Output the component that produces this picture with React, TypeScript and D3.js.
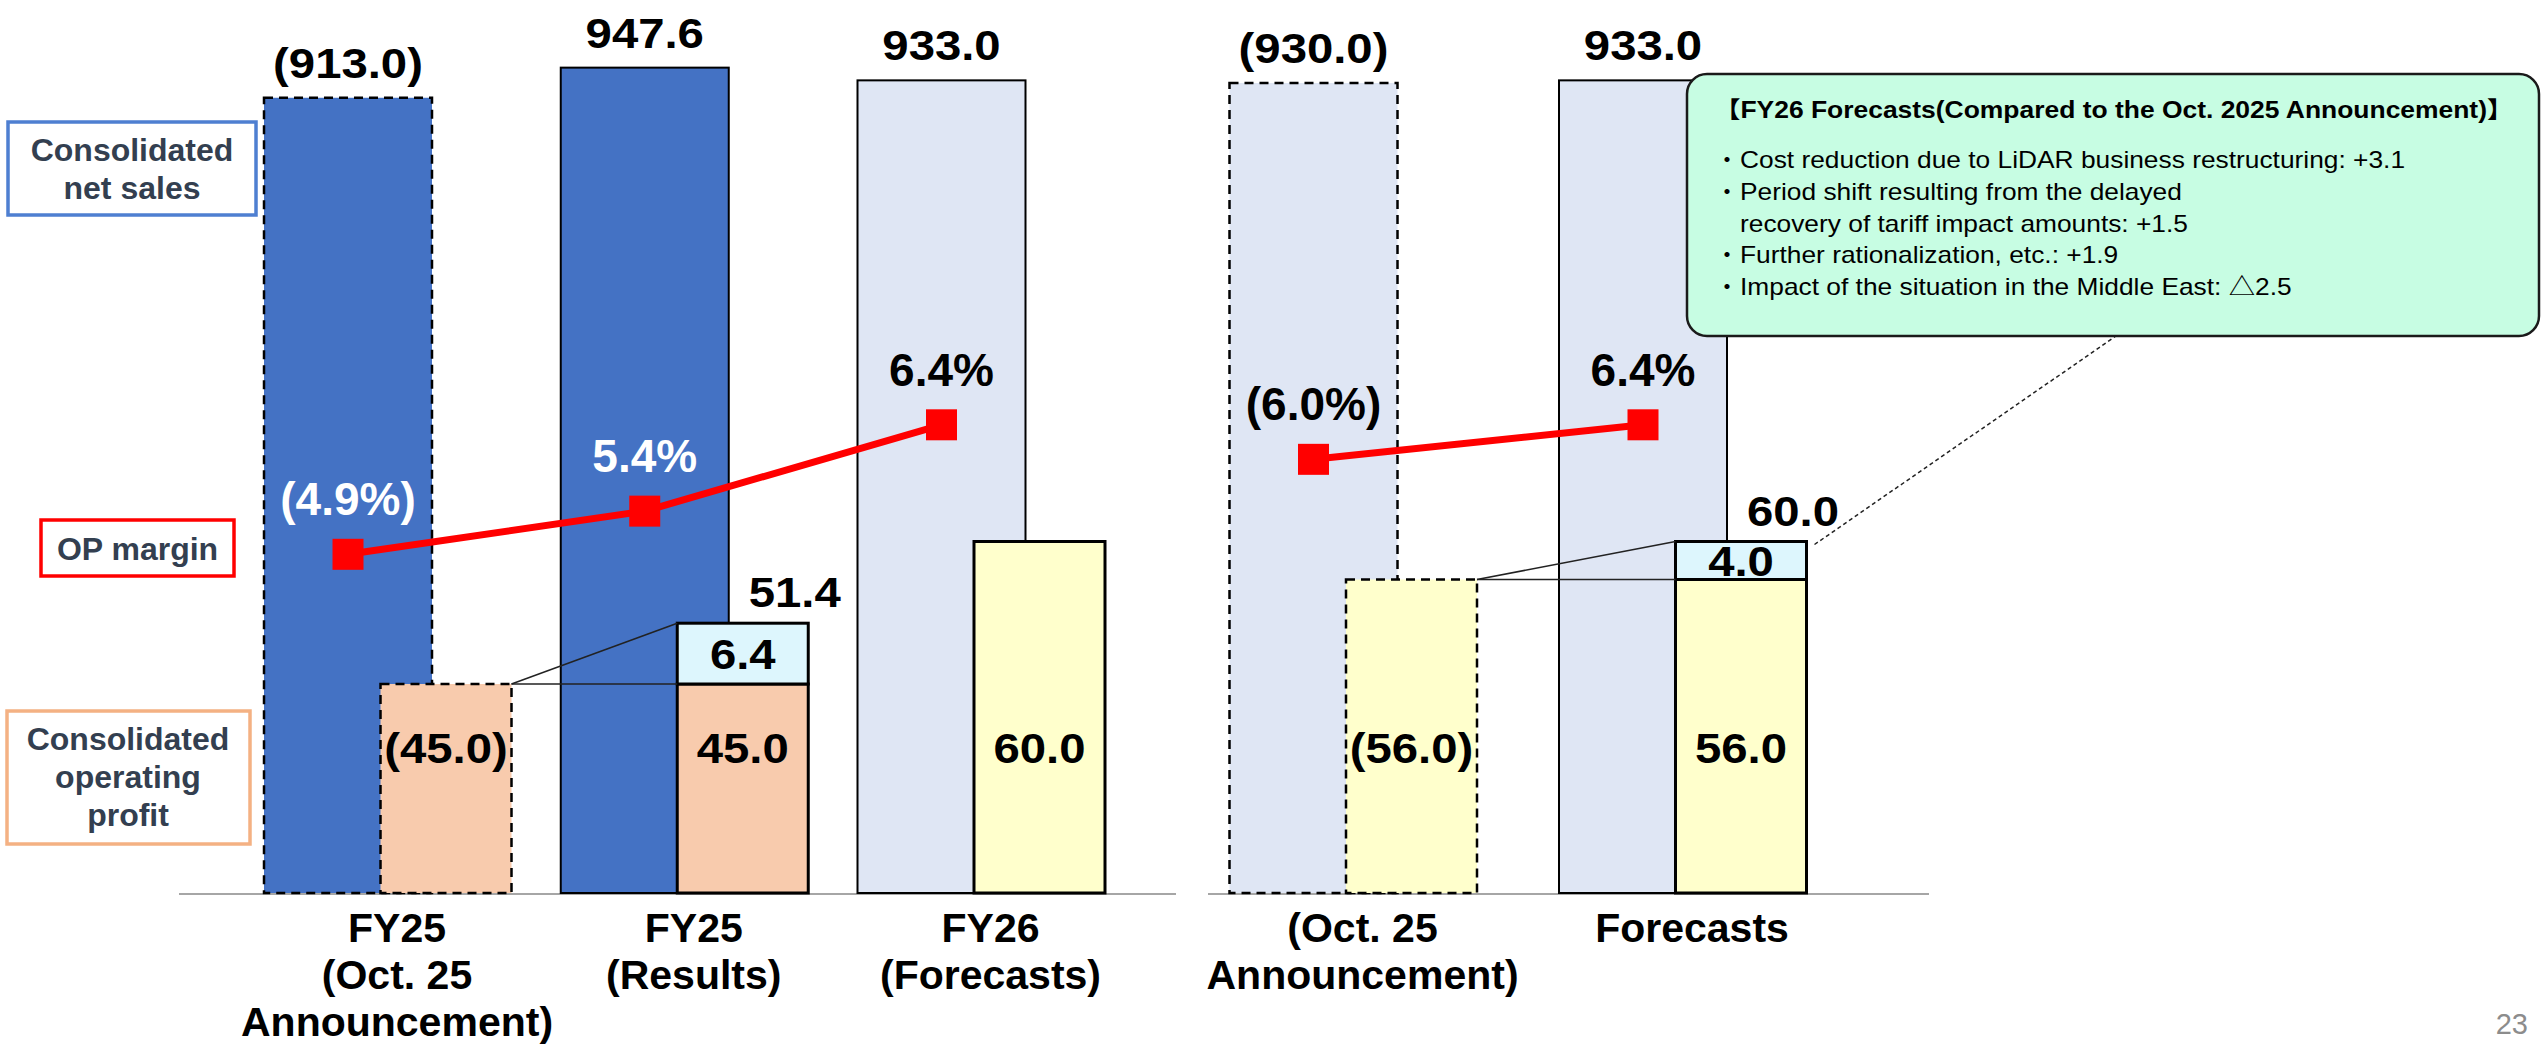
import React from "react";
import * as d3 from "d3";

// ---- data ----
const tickLines: string[][] = [
  ["FY25", "(Oct. 25", "Announcement)"],
  ["FY25", "(Results)"],
  ["FY26", "(Forecasts)"],
  ["(Oct. 25", "Announcement)"],
  ["Forecasts"],
];
const netSales = [913.0, 947.6, 933.0, 930.0, 933.0];
const opBase = [45.0, 45.0, 60.0, 56.0, 56.0];
const opIncrease = [0, 6.4, 0, 0, 4.0];
const opMargin = [4.9, 5.4, 6.4, 6.0, 6.4];
const isAnnouncement = [true, false, false, true, false];
const panelOf = [0, 0, 0, 1, 1];
const comparisons: [number, number][] = [
  [0, 1],
  [3, 4],
];
const noteTitle = "【FY26 Forecasts(Compared to the Oct. 2025 Announcement)】";
const noteBullets: { bullet: boolean; text: string }[] = [
  { bullet: true, text: "Cost reduction due to LiDAR business restructuring: +3.1" },
  { bullet: true, text: "Period shift resulting from the delayed" },
  { bullet: false, text: "recovery of tariff impact amounts: +1.5" },
  { bullet: true, text: "Further rationalization, etc.: +1.9" },
  { bullet: true, text: "Impact of the situation in the Middle East: △2.5" },
];
const pageNumber = "23";

// ---- styles ----
const BLUE = "#4472C4";
const LIGHT = "#DFE6F4";
const PEACH = "#F8CBAD";
const YELLOW = "#FFFFCC";
const CYAN = "#DDF6FD";
const SALES_FILL = [BLUE, BLUE, LIGHT, LIGHT, LIGHT];
const OP_FILL = [PEACH, PEACH, YELLOW, YELLOW, YELLOW];
const PCT_COLOR = ["#FFFFFF", "#FFFFFF", "#000000", "#000000", "#000000"];
const FONT = "'Liberation Sans', Arial, 'Noto Sans CJK JP', sans-serif";
const LEGEND_TEXT = "#333F50";

const W = 2542;
const H = 1044;
const AXIS_Y = 893;
const SALES_W = 168;
const OP_W = 131;
const OP_SHIFT = 98;
const panelExtent = [
  [179, 1176],
  [1208, 1929],
];

// net sales (¥bn) from zero; operating profit on its own, truncated scale
const ySales = d3.scaleLinear().domain([0, 1000]).range([AXIS_Y, AXIS_Y - 871]);
const yOp = d3.scaleLinear().domain([23, 60]).range([AXIS_Y, AXIS_Y - 351.5]);
const yPct = d3.scaleLinear().domain([4, 7]).range([632, 373]);

const xPanels = [
  d3.scalePoint<number>().domain([0, 1, 2]).range([348, 941.5]),
  d3.scalePoint<number>().domain([3, 4]).range([1313.5, 1643]),
];
const salesCx = (i: number) => xPanels[panelOf[i]](i) as number;
const opCx = (i: number) => salesCx(i) + OP_SHIFT;

const fmtVal = (v: number, paren: boolean) => (paren ? `(${v.toFixed(1)})` : v.toFixed(1));
const fmtPct = (v: number, paren: boolean) => (paren ? `(${v.toFixed(1)}%)` : `${v.toFixed(1)}%`);

function T(props: {
  x: number;
  y: number;
  size: number;
  sx?: number;
  weight?: string | number;
  anchor?: "start" | "middle" | "end";
  fill?: string;
  children: React.ReactNode;
}) {
  const { x, y, size, sx = 1, weight = "bold", anchor = "middle", fill = "#000", children } = props;
  return (
    <text
      transform={`translate(${x},${y}) scale(${sx},1)`}
      fontSize={size}
      fontWeight={weight}
      textAnchor={anchor}
      fill={fill}
      fontFamily={FONT}
    >
      {children}
    </text>
  );
}

export default function App() {
  const idx = netSales.map((_, i) => i);
  const line = d3
    .line<number>()
    .x((i) => salesCx(i))
    .y((i) => yPct(opMargin[i]));
  const marginPanels = [0, 1].map((p) => idx.filter((i) => panelOf[i] === p));
  const DASH = "9,6";

  return (
    <svg
      width={W}
      height={H}
      style={{ position: "absolute", left: 0, top: 0, background: "#fff" }}
      xmlns="http://www.w3.org/2000/svg"
    >
      <rect x={0} y={0} width={W} height={H} fill="#fff" />

      {/* baselines of the two panels */}
      {panelExtent.map(([a, b], k) => (
        <line key={k} x1={a} x2={b} y1={AXIS_Y + 1} y2={AXIS_Y + 1} stroke="#A6A6A6" strokeWidth={2} />
      ))}

      {/* net sales bars */}
      {idx.map((i) => (
        <rect
          key={`s${i}`}
          x={salesCx(i) - SALES_W / 2}
          y={ySales(netSales[i])}
          width={SALES_W}
          height={AXIS_Y - ySales(netSales[i])}
          fill={SALES_FILL[i]}
          stroke="#000"
          strokeWidth={isAnnouncement[i] ? 2.5 : 2}
          strokeDasharray={isAnnouncement[i] ? DASH : undefined}
        />
      ))}

      {/* operating profit bars */}
      {idx.map((i) => (
        <g key={`o${i}`}>
          <rect
            x={opCx(i) - OP_W / 2}
            y={yOp(opBase[i])}
            width={OP_W}
            height={AXIS_Y - yOp(opBase[i])}
            fill={OP_FILL[i]}
            stroke="#000"
            strokeWidth={isAnnouncement[i] ? 2.5 : 3}
            strokeDasharray={isAnnouncement[i] ? DASH : undefined}
          />
          {opIncrease[i] > 0 && (
            <rect
              x={opCx(i) - OP_W / 2}
              y={yOp(opBase[i] + opIncrease[i])}
              width={OP_W}
              height={yOp(opBase[i]) - yOp(opBase[i] + opIncrease[i])}
              fill={CYAN}
              stroke="#000"
              strokeWidth={3}
            />
          )}
        </g>
      ))}

      {/* connectors from the announcement to the updated figure */}
      {comparisons.map(([a, b], k) => {
        const x0 = opCx(a) + OP_W / 2;
        const y0 = yOp(opBase[a]);
        const x1 = opCx(b) - OP_W / 2;
        const y1 = yOp(opBase[b] + opIncrease[b]);
        return (
          <g key={`c${k}`} stroke="#222" strokeWidth={1.5}>
            <line x1={x0} y1={y0} x2={x1} y2={y1} />
            <line x1={x0} y1={y0} x2={x1} y2={y0} />
          </g>
        );
      })}

      {/* callout leader to the note box */}
      <line
        x1={opCx(4) + OP_W / 2 + 8}
        y1={yOp(opBase[4] + opIncrease[4]) + 3}
        x2={2116}
        y2={336}
        stroke="#222"
        strokeWidth={1.5}
        strokeDasharray="4,3"
      />

      {/* OP margin line */}
      {marginPanels.map((pts, k) => (
        <path key={`l${k}`} d={line(pts) || ""} fill="none" stroke="#FF0000" strokeWidth={7} />
      ))}
      {idx.map((i) => (
        <rect
          key={`m${i}`}
          x={salesCx(i) - 15.5}
          y={yPct(opMargin[i]) - 15.5}
          width={31}
          height={31}
          fill="#FF0000"
        />
      ))}

      {/* net sales values */}
      {idx.map((i) => (
        <T key={`sv${i}`} x={salesCx(i)} y={ySales(netSales[i]) - 20} size={43} sx={1.1}>
          {fmtVal(netSales[i], isAnnouncement[i])}
        </T>
      ))}

      {/* operating profit values */}
      {idx.map((i) => (
        <T key={`ov${i}`} x={opCx(i)} y={AXIS_Y - 130} size={43} sx={1.1}>
          {fmtVal(opBase[i], isAnnouncement[i])}
        </T>
      ))}
      {idx
        .filter((i) => opIncrease[i] > 0)
        .map((i) => {
          const top = yOp(opBase[i] + opIncrease[i]);
          const mid = (top + yOp(opBase[i])) / 2;
          return (
            <g key={`inc${i}`}>
              <T x={opCx(i)} y={mid + 15} size={43} sx={1.1}>
                {fmtVal(opIncrease[i], false)}
              </T>
              <T x={opCx(i) + 52} y={top - 16} size={43} sx={1.1}>
                {fmtVal(opBase[i] + opIncrease[i], false)}
              </T>
            </g>
          );
        })}

      {/* OP margin values */}
      {idx.map((i) => (
        <T key={`pv${i}`} x={salesCx(i)} y={yPct(opMargin[i]) - 39} size={46} fill={PCT_COLOR[i]}>
          {fmtPct(opMargin[i], isAnnouncement[i])}
        </T>
      ))}

      {/* category labels */}
      {idx.map((i) =>
        tickLines[i].map((s, j) => (
          <T key={`t${i}-${j}`} x={salesCx(i) + 49} y={942 + j * 47} size={41}>
            {s}
          </T>
        ))
      )}

      {/* note box */}
      <rect x={1687} y={74} width={852} height={262} rx={20} ry={20} fill="#C7FDE3" stroke="#1a1a1a" strokeWidth={2.5} />
      <T x={1714} y={118} size={23} sx={1.15} anchor="start">
        {noteTitle}
      </T>
      {noteBullets.map((b, k) => (
        <g key={`n${k}`}>
          {b.bullet && (
            <T x={1715} y={168 + k * 31.75} size={24} weight="normal" anchor="start">
              ・
            </T>
          )}
          <T x={1740} y={168 + k * 31.75} size={24} sx={1.097} weight="normal" anchor="start">
            {b.text}
          </T>
        </g>
      ))}

      {/* legend */}
      <rect x={8} y={122} width={248} height={93} fill="#fff" stroke="#4E7FD1" strokeWidth={3.5} />
      <T x={132} y={161} size={32} fill={LEGEND_TEXT}>
        Consolidated
      </T>
      <T x={132} y={199} size={32} fill={LEGEND_TEXT}>
        net sales
      </T>
      <rect x={41} y={520} width={193} height={56} fill="#fff" stroke="#FF0000" strokeWidth={3.5} />
      <T x={137.5} y={560} size={32} fill={LEGEND_TEXT}>
        OP margin
      </T>
      <rect x={7} y={711} width={243} height={133} fill="#fff" stroke="#F4B183" strokeWidth={3.5} />
      <T x={128} y={750} size={32} fill={LEGEND_TEXT}>
        Consolidated
      </T>
      <T x={128} y={788} size={32} fill={LEGEND_TEXT}>
        operating
      </T>
      <T x={128} y={826} size={32} fill={LEGEND_TEXT}>
        profit
      </T>

      <T x={2528} y={1034} size={29} weight="normal" anchor="end" fill="#8C8C8C">
        {pageNumber}
      </T>
    </svg>
  );
}
